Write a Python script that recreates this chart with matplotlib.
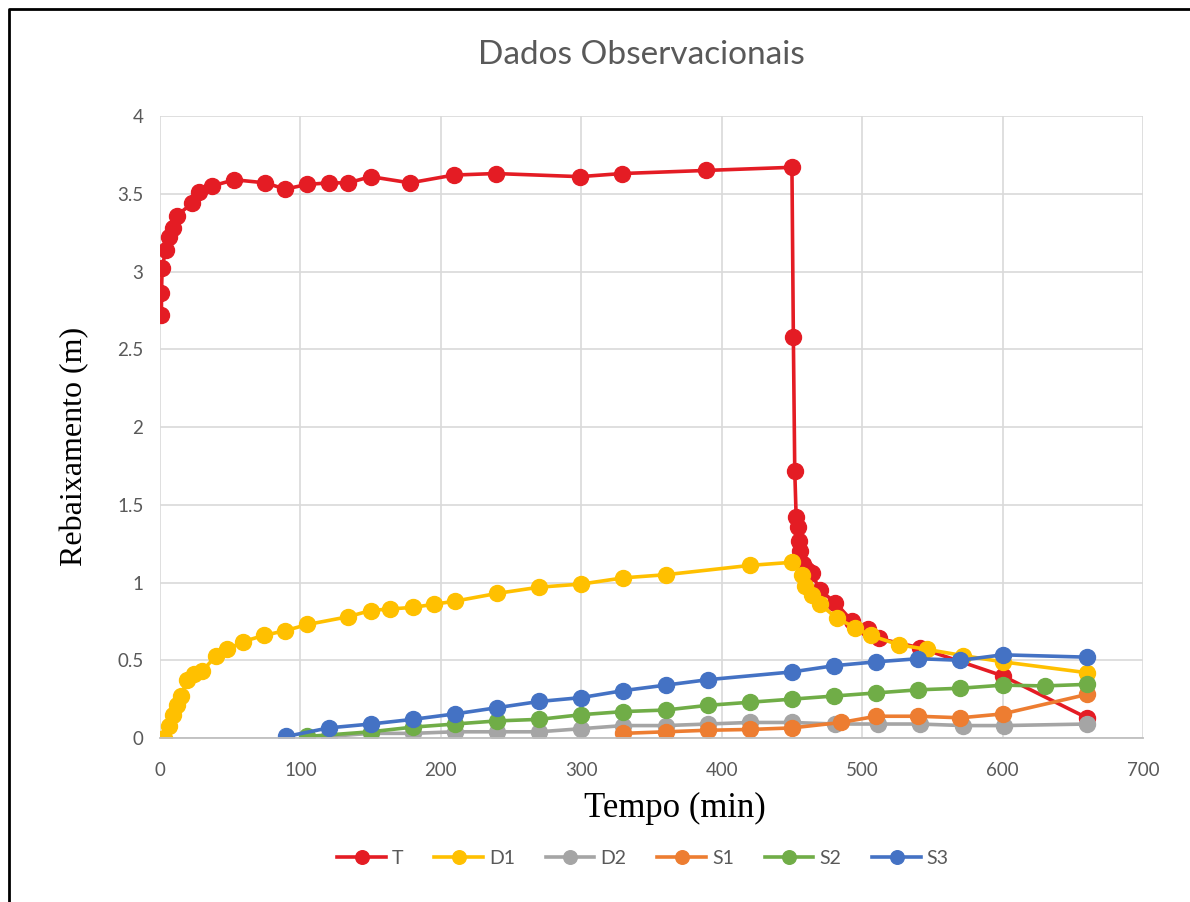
import numpy as np
import matplotlib.pyplot as plt
from matplotlib.lines import Line2D

# series data (time in min, drawdown in m)
t_T = [1, 1, 1.5, 4, 6.5, 9.5, 12, 23, 28, 37, 53, 75, 89, 105, 120, 134, 150,
       178, 209, 239, 299, 329, 389, 450,
       451, 452, 453, 454, 455, 456, 458, 461, 464, 470, 481, 493, 504, 512, 541, 600, 660]
v_T = [2.72, 2.86, 3.02, 3.14, 3.22, 3.28, 3.36, 3.44, 3.51, 3.55, 3.59, 3.57, 3.53, 3.56, 3.57, 3.57, 3.61,
       3.57, 3.62, 3.63, 3.61, 3.63, 3.65, 3.67,
       2.58, 1.72, 1.42, 1.36, 1.27, 1.20, 1.12, 1.08, 1.06, 0.95, 0.87, 0.75, 0.70, 0.64, 0.58, 0.40, 0.13]

t_D1 = [3, 6.5, 9.5, 12, 15, 19, 24, 30, 40, 48, 59, 74, 89, 105, 134, 150, 164, 180, 195, 210,
        240, 270, 300, 330, 360, 420, 450, 457, 459, 464, 470, 482, 495, 506, 526, 546, 572, 600, 660]
v_D1 = [0.00, 0.08, 0.15, 0.21, 0.27, 0.37, 0.41, 0.43, 0.53, 0.57, 0.62, 0.66, 0.69, 0.73, 0.78, 0.82,
        0.83, 0.84, 0.86, 0.88, 0.93, 0.97, 0.99, 1.03, 1.05, 1.11, 1.13, 1.05, 0.98, 0.92, 0.86, 0.77,
        0.71, 0.66, 0.60, 0.57, 0.53, 0.49, 0.42]

t_D2 = [120, 150, 180, 210, 240, 270, 300, 330, 360, 390, 420, 450, 481, 511, 541, 572, 601, 660]
v_D2 = [0.01, 0.03, 0.03, 0.04, 0.04, 0.04, 0.06, 0.08, 0.08, 0.09, 0.10, 0.10, 0.09, 0.09, 0.09,
        0.08, 0.08, 0.09]

t_S1 = [330, 360, 390, 420, 450, 485, 510, 540, 570, 600, 660]
v_S1 = [0.03, 0.04, 0.05, 0.055, 0.065, 0.10, 0.14, 0.14, 0.13, 0.155, 0.28]

t_S2 = [105, 150, 180, 210, 240, 270, 300, 330, 360, 390, 420, 450, 480, 510, 540, 570, 600, 630, 660]
v_S2 = [0.01, 0.04, 0.07, 0.09, 0.11, 0.12, 0.15, 0.17, 0.18, 0.21, 0.23, 0.25, 0.27, 0.29, 0.31,
        0.32, 0.34, 0.335, 0.345]

t_S3 = [90, 120, 150, 180, 210, 240, 270, 300, 330, 360, 390, 450, 480, 510, 540, 570, 600, 660]
v_S3 = [0.01, 0.065, 0.09, 0.12, 0.155, 0.195, 0.235, 0.26, 0.305, 0.34, 0.375, 0.425, 0.465,
        0.49, 0.51, 0.50, 0.535, 0.52]

names = ['T', 'D1', 'D2', 'S1', 'S2', 'S3']
colors = ['#E41C24', '#FFC000', '#A5A5A5', '#ED7D31', '#70AD47', '#4472C4']
series = [(t_T, v_T), (t_D1, v_D1), (t_D2, v_D2), (t_S1, v_S1), (t_S2, v_S2), (t_S3, v_S3)]

plt.rcParams['font.family'] = ['Lato', 'DejaVu Sans']

fig = plt.figure(figsize=(11.9, 9.02), dpi=100)
ax = fig.add_axes([0.1345, 0.1818, 0.826, 0.6896])

for (t, v), name, c in zip(series, names, colors):
    ax.plot(t, v, color=c, lw=2.6, marker='o', ms=11.5, label=name)

ax.set_xlim(0, 700)
ax.set_ylim(0, 4)
ax.set_xticks(np.arange(0, 701, 100))
ax.set_yticks(np.arange(0, 4.01, 0.5))
ax.set_yticklabels(['0', '0.5', '1', '1.5', '2', '2.5', '3', '3.5', '4'])
ax.grid(True, color='#D9D9D9', lw=1.2)
ax.set_axisbelow(True)
for s in ['top', 'right', 'left']:
    ax.spines[s].set_visible(False)
ax.spines['bottom'].set_color('#BFBFBF')
ax.spines['bottom'].set_linewidth(1.3)
ax.tick_params(length=0, labelsize=13.5, labelcolor='#595959')
ax.tick_params(axis='x', pad=17)
ax.tick_params(axis='y', pad=12)

fig.text(641 / 1190, 1 - 55 / 902, 'Dados Observacionais', fontsize=24, color='#595959',
         ha='center', va='center')
ax.set_xlabel('Tempo (min)', fontsize=25, family='Liberation Serif')
ax.set_ylabel('Rebaixamento (m)', fontsize=23, family='Liberation Serif')
ax.xaxis.set_label_coords(0.524, -0.1125)
ax.yaxis.set_label_coords(-0.0865, 0.469)
ax.xaxis.label.set_va('center')
ax.yaxis.label.set_va('center')

leg = fig.legend(loc='center', bbox_to_anchor=(643 / 1190, 1 - 858 / 902), ncol=6, frameon=False,
                 fontsize=14, handlelength=2.5, columnspacing=1.6, handletextpad=0.3,
                 markerscale=0.85)
for txt in leg.get_texts():
    txt.set_color('#595959')

# outer border (left and top)
xb = 8.5 / 1190
yb = 1 - 8.5 / 902
fig.add_artist(Line2D([xb, xb, 1.0], [0.0, yb, yb], transform=fig.transFigure,
                      color='black', lw=2))

fig.savefig('out.png', dpi=100)
